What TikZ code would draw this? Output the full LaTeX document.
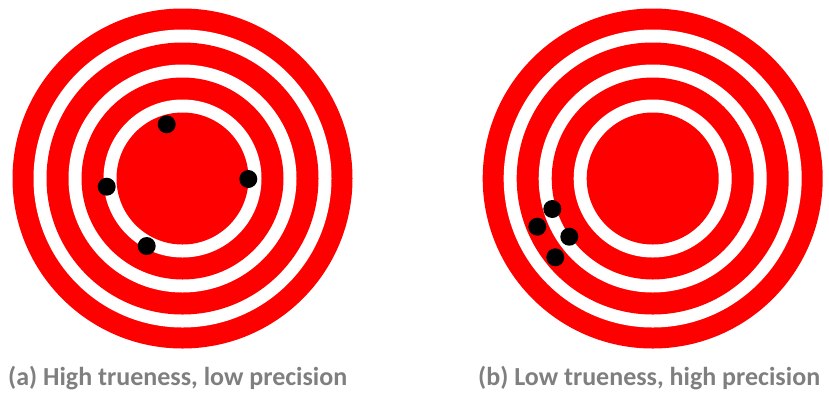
\documentclass[tikz,border=0pt]{standalone}
\usepackage{fontspec}
\setmainfont{Carlito}
\usepackage{xcolor}
\usetikzlibrary{positioning}
\definecolor{targetred}{RGB}{255,0,0}
\definecolor{labelgrey}{RGB}{127,127,127}
\tikzset{
  hit/.style={circle, fill=black, inner sep=0pt, minimum size=18pt},
  caption/.style={anchor=base west, inner sep=0pt, text=labelgrey, font=\fontsize{26}{30}\selectfont\bfseries}
}

\begin{document}
\begin{tikzpicture}[x=1pt, y=-1pt]
    \useasboundingbox (0,0) rectangle (829,392);

    % Targets
    \foreach \cx in {182.5,652.7} {
        \foreach \r/\c in {170/targetred,149/white,136/targetred,114/white,101/targetred,79/white,66/targetred} {
            \fill[\c] (\cx,178.5) circle (\r pt);
        }
    }

    % Hits, left target
    \node[hit] (a1) at (166.7,124.3) {};
    \node[hit] (a2) at (106.7,186.7) {};
    \node[hit] (a3) at (248.3,179) {};
    \node[hit] (a4) at (146.7,246) {};

    % Hits, right target
    \node[hit] (b1) at (552.3,209) {};
    \node[hit] (b2) at (537.3,226.7) {};
    \node[hit] (b3) at (569.3,236.7) {};
    \node[hit] (b4) at (555.3,257.3) {};

    % Captions
    \node[caption] (capa) at (8,385) {(a) High trueness, low precision};
    \node[caption] (capb) at (478,385) {(b) Low trueness, high precision};
\end{tikzpicture}
\end{document}
